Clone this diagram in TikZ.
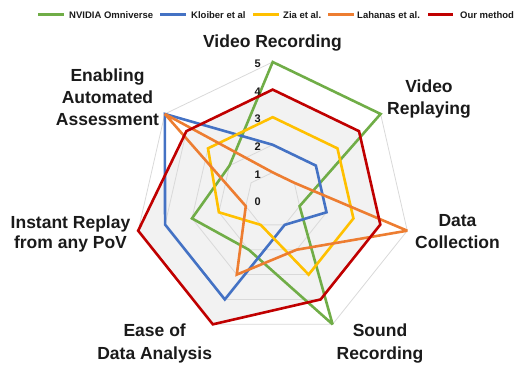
\documentclass[tikz,border=0pt]{standalone}
\usepackage{fontspec}
\setmainfont{Liberation Sans}
\definecolor{cgreen}{HTML}{70AD47}
\definecolor{cblue}{HTML}{4472C4}
\definecolor{cyellow}{HTML}{FFC000}
\definecolor{corange}{HTML}{ED7D31}
\definecolor{cred}{HTML}{C00000}
\definecolor{cfill}{HTML}{F2F2F2}
\definecolor{cgrid}{HTML}{D9D9D9}
\definecolor{ctext}{HTML}{1A1A1A}
\newcommand\rstep{27.6}
\newcommand\radarline[8]{\draw[serline,#1] (90:{#2*\rstep}) -- (38.571:{#3*\rstep}) -- (-12.857:{#4*\rstep}) -- (-64.286:{#5*\rstep}) -- (-115.714:{#6*\rstep}) -- (-167.143:{#7*\rstep}) -- (141.429:{#8*\rstep}) -- cycle;}
\begin{document}
\begin{tikzpicture}[x=1pt,y=1pt,
  serline/.style={line width=2.6pt,line join=miter,miter limit=3},
  gridline/.style={draw=cgrid,line width=0.8pt},
  axlabel/.style={anchor=base,inner sep=0pt,text=ctext,font=\bfseries\fontsize{17.5}{20}\selectfont},
  vallabel/.style={anchor=east,inner sep=0pt,text=ctext,font=\bfseries\fontsize{11}{13}\selectfont},
  legtext/.style={anchor=base west,inner sep=0pt,text=ctext,font=\bfseries\fontsize{9.5}{11}\selectfont},
  legline/.style={line width=2.6pt}]
\useasboundingbox (0,0) rectangle (516,367);
\begin{scope}[shift={(272.7,167)}]
  % fill of our method
  \fill[cfill] (90:{4*\rstep}) -- (38.571:{4*\rstep}) -- (-12.857:{4*\rstep}) -- (-64.286:{4*\rstep}) -- (-115.714:{5*\rstep}) -- (-167.143:{5*\rstep}) -- (141.429:{4*\rstep}) -- cycle;
  % grid rings
  \foreach \v in {1,...,5}
    \draw[gridline] (90:{\v*\rstep}) -- (38.571:{\v*\rstep}) -- (-12.857:{\v*\rstep}) -- (-64.286:{\v*\rstep}) -- (-115.714:{\v*\rstep}) -- (-167.143:{\v*\rstep}) -- (141.429:{\v*\rstep}) -- cycle;
  % series
  \radarline{cgreen}{5}{5}{1}{5}{2}{3}{2}
  \radarline{cblue}{2}{2}{2}{1}{4}{4}{5}
  \radarline{cyellow}{3}{3}{3}{3}{1}{2}{3}
  \radarline{corange}{1}{1}{5}{2}{3}{1}{5}
  \radarline{cred}{4}{4}{4}{4}{5}{5}{4}
  % value labels
  \foreach \v in {0,...,5}
    \node[vallabel] (v\v) at (-11.7,{\v*\rstep-2}) {\v};
\end{scope}
% axis labels
\node[axlabel] (vr) at (272.5,319) {Video Recording};
\node[axlabel] (vpa) at (429,274.3) {Video};
\node[axlabel] (vpb) at (429,252.7) {Replaying};
\node[axlabel] (dca) at (457.5,140.3) {Data};
\node[axlabel] (dcb) at (457.5,118.7) {Collection};
\node[axlabel] (sra) at (380,31) {Sound};
\node[axlabel] (srb) at (380,8) {Recording};
\node[axlabel] (eda) at (154.7,31) {Ease of};
\node[axlabel] (edb) at (154.7,7.7) {Data Analysis};
\node[axlabel] (ira) at (70.5,138.7) {Instant Replay};
\node[axlabel] (irb) at (70.5,118.8) {from any PoV};
\node[axlabel] (eaa) at (107.5,285) {Enabling};
\node[axlabel] (eab) at (107.5,263) {Automated};
\node[axlabel] (eac) at (107.5,241) {Assessment};
% legend
\coordinate (g1) at (38,352.3); \coordinate (g2) at (64,352.3);
\coordinate (b1) at (160,352.3); \coordinate (b2) at (185.7,352.3);
\coordinate (y1) at (253,352.3); \coordinate (y2) at (279,352.3);
\coordinate (o1) at (328,352.3); \coordinate (o2) at (354,352.3);
\coordinate (r1) at (428,352.3); \coordinate (r2) at (453,352.3);
\draw[legline,cgreen] (g1) -- (g2);
\draw[legline,cblue] (b1) -- (b2);
\draw[legline,cyellow] (y1) -- (y2);
\draw[legline,corange] (o1) -- (o2);
\draw[legline,cred] (r1) -- (r2);
\node[legtext] (lg) at (69,348.9) {NVIDIA Omniverse};
\node[legtext] (lb) at (191,348.9) {Kloiber et al};
\node[legtext] (ly) at (283,348.9) {Zia et al.};
\node[legtext] (lo) at (357,348.9) {Lahanas et al.};
\node[legtext] (lr) at (460,348.9) {Our method};
\end{tikzpicture}
\end{document}
